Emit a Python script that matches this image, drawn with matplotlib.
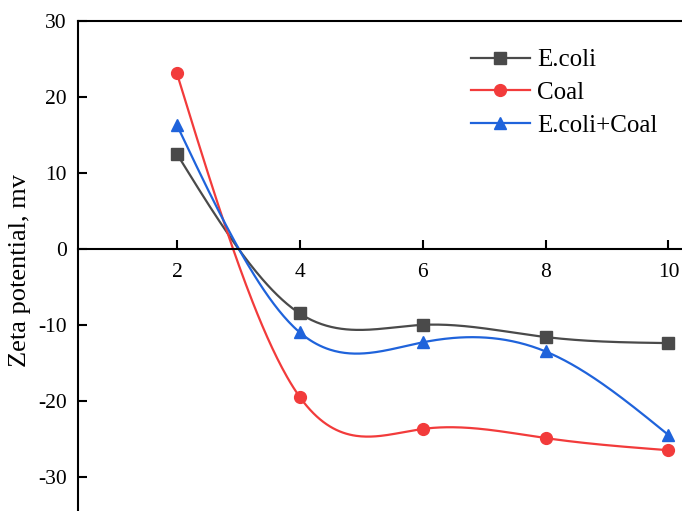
import numpy as np
import matplotlib.pyplot as plt

ph = [2, 4, 6, 8, 10]
ecoli = [12.5, -8.5, -10.0, -11.6, -12.4]
coal = [23.1, -19.5, -23.7, -24.9, -26.5]
mix = [16.3, -11.0, -12.3, -13.5, -24.5]


def natural_spline(x, y, n=300):
    x = np.asarray(x, float)
    y = np.asarray(y, float)
    k = len(x)
    h = np.diff(x)
    A = np.zeros((k, k))
    b = np.zeros(k)
    A[0, 0] = A[-1, -1] = 1
    for i in range(1, k - 1):
        A[i, i - 1] = h[i - 1]
        A[i, i] = 2 * (h[i - 1] + h[i])
        A[i, i + 1] = h[i]
        b[i] = 6 * ((y[i + 1] - y[i]) / h[i] - (y[i] - y[i - 1]) / h[i - 1])
    m = np.linalg.solve(A, b)
    xs = np.linspace(x[0], x[-1], n)
    idx = np.clip(np.searchsorted(x, xs) - 1, 0, k - 2)
    x0, x1 = x[idx], x[idx + 1]
    hh = x1 - x0
    t0, t1 = x1 - xs, xs - x0
    ys = (m[idx] * t0**3 + m[idx + 1] * t1**3) / (6 * hh) \
        + (y[idx] / hh - m[idx] * hh / 6) * t0 \
        + (y[idx + 1] / hh - m[idx + 1] * hh / 6) * t1
    return xs, ys


plt.rcParams['font.family'] = 'Liberation Serif'
plt.rcParams['axes.unicode_minus'] = False

fig = plt.figure(figsize=(6.82, 5.11), dpi=100)
ax = fig.add_axes([78 / 682, 0, 1 - 78 / 682, 490 / 511])

series = [
    (ecoli, 'E.coli', '#4a4a4a', 's', 8),
    (coal, 'Coal', '#f23b3b', 'o', 8.5),
    (mix, 'E.coli+Coal', '#1f63db', '^', 9),
]
for vals, name, col, mk, ms in series:
    xs, ys = natural_spline(ph, vals)
    ax.plot(xs, ys, color=col, lw=1.6)
    ax.plot(ph, vals, linestyle='none', marker=mk, color=col, ms=ms)
    ax.plot([], [], color=col, lw=1.6, marker=mk, ms=ms, label=name)

ax.set_xlim(0.39, 10.22)
ax.set_ylim(-34.5, 30)
ax.spines['bottom'].set_position(('data', 0))
ax.spines['right'].set_visible(False)
for s in ax.spines.values():
    s.set_linewidth(1.5)
ax.set_xticks(ph)
ax.set_yticks([-30, -20, -10, 0, 10, 20, 30])
ax.tick_params(direction='in', length=6.5, width=1.5, labelsize=15.5)
ax.tick_params(axis='x', pad=10)
ax.tick_params(axis='y', pad=8)
ax.set_ylabel('Zeta potential, mv', fontsize=19)
ax.yaxis.set_label_coords(-0.078, 0.49)

ax.legend(loc='upper left', bbox_to_anchor=(471 / 682, 1 - 49 / 511),
          bbox_transform=fig.transFigure, frameon=False, fontsize=18,
          borderpad=0, borderaxespad=0, handlelength=2.35,
          handletextpad=0.3, labelspacing=0.4)

fig.savefig('out.png', dpi=100)
